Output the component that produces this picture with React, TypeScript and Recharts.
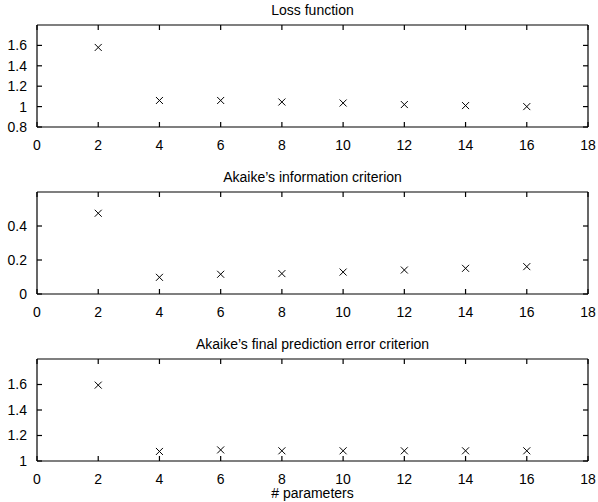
import { ScatterChart, Scatter, XAxis, YAxis, ReferenceLine } from "recharts"

// number of model parameters (x) and the three criteria
const params = [2, 4, 6, 8, 10, 12, 14, 16]
const lossValues = [1.58, 1.06, 1.06, 1.045, 1.035, 1.02, 1.01, 1.0]
const aicValues = [0.475, 0.098, 0.116, 0.12, 0.129, 0.141, 0.151, 0.161]
const fpeValues = [1.595, 1.075, 1.087, 1.08, 1.08, 1.08, 1.08, 1.08]

const xTicks = [0, 2, 4, 6, 8, 10, 12, 14, 16, 18]
const lossTicks = [0.8, 1, 1.2, 1.4, 1.6]
const aicTicks = [0, 0.2, 0.4]
const fpeTicks = [1, 1.2, 1.4, 1.6]

const FONT = "'Liberation Sans', Arial, Helvetica, sans-serif"
const TICK_LEN = 5
const tickStyle = { fill: "#000", fontSize: 14, fontFamily: FONT }

// matlab style inward tick marks: a short stub at each end of a reference line
const XTickPair = (p: any) => {
  const top = Math.min(p.y1, p.y2)
  const bot = Math.max(p.y1, p.y2)
  return (
    <g>
      <line x1={p.x1} x2={p.x1} y1={top} y2={top + TICK_LEN} stroke="#000" strokeWidth={1.2} />
      <line x1={p.x1} x2={p.x1} y1={bot} y2={bot - TICK_LEN} stroke="#000" strokeWidth={1.2} />
    </g>
  )
}

const YTickPair = (p: any) => {
  const left = Math.min(p.x1, p.x2)
  const right = Math.max(p.x1, p.x2)
  return (
    <g>
      <line x1={left} x2={left + TICK_LEN} y1={p.y1} y2={p.y1} stroke="#000" strokeWidth={1.2} />
      <line x1={right} x2={right - TICK_LEN} y1={p.y1} y2={p.y1} stroke="#000" strokeWidth={1.2} />
    </g>
  )
}

const XMark = (props: any) => {
  const { cx, cy } = props
  const s = 3.5
  return (
    <path
      d={`M${cx - s},${cy - s}L${cx + s},${cy + s}M${cx - s},${cy + s}L${cx + s},${cy - s}`}
      stroke="#000"
      strokeWidth={1}
      fill="none"
    />
  )
}

type PanelProps = {
  top: number
  title: string
  values: number[]
  yDomain: [number, number]
  yTicks: number[]
}

function Panel({ top, title, values, yDomain, yTicks }: PanelProps) {
  const data = params.map((p, i) => ({ p, v: values[i] }))
  return (
    <div style={{ position: "absolute", left: 0, top, width: 598, height: 168 }}>
      <div
        style={{
          position: "absolute",
          left: 37,
          width: 551,
          top: 2,
          textAlign: "center",
          fontFamily: FONT,
          fontSize: 14,
          lineHeight: "16px",
          color: "#000",
        }}
      >
        {title}
      </div>
      <ScatterChart width={598} height={168} margin={{ top: 0, right: 0, bottom: 0, left: 0 }}>
        <XAxis
          xAxisId="b"
          type="number"
          dataKey="p"
          domain={[0, 18]}
          ticks={xTicks}
          interval={0}
          height={41}
          tickLine={false}
          tickMargin={7}
          tick={tickStyle}
          stroke="#000"
          strokeWidth={1.2}
          allowDataOverflow
        />
        <XAxis
          xAxisId="t"
          orientation="top"
          type="number"
          dataKey="p"
          domain={[0, 18]}
          height={25}
          tickLine={false}
          tick={false}
          stroke="#000"
          strokeWidth={1.2}
          allowDataOverflow
        />
        <YAxis
          yAxisId="l"
          type="number"
          dataKey="v"
          domain={yDomain}
          ticks={yTicks}
          interval={0}
          width={37}
          tickLine={false}
          tickMargin={4}
          tick={tickStyle}
          stroke="#000"
          strokeWidth={1.2}
          allowDataOverflow
        />
        <YAxis
          yAxisId="r"
          orientation="right"
          type="number"
          dataKey="v"
          domain={yDomain}
          width={10}
          tickLine={false}
          tick={false}
          stroke="#000"
          strokeWidth={1.2}
          allowDataOverflow
        />
        {xTicks.map((t) => (
          <ReferenceLine key={`x${t}`} xAxisId="b" yAxisId="l" x={t} shape={XTickPair} ifOverflow="visible" />
        ))}
        {yTicks.map((t) => (
          <ReferenceLine key={`y${t}`} xAxisId="b" yAxisId="l" y={t} shape={YTickPair} ifOverflow="visible" />
        ))}
        <Scatter xAxisId="b" yAxisId="l" data={data} shape={XMark} isAnimationActive={false} />
        <Scatter xAxisId="t" yAxisId="r" data={data} shape={() => <g />} isAnimationActive={false} />
      </ScatterChart>
    </div>
  )
}

export default function App() {
  return (
    <div style={{ position: "absolute", left: 0, top: 0, width: 598, height: 502, background: "#fff" }}>
      <Panel top={0} title="Loss function" values={lossValues} yDomain={[0.8, 1.8]} yTicks={lossTicks} />
      <Panel top={167} title="Akaike’s information criterion" values={aicValues} yDomain={[0, 0.6]} yTicks={aicTicks} />
      <Panel top={334} title="Akaike’s final prediction error criterion" values={fpeValues} yDomain={[1, 1.8]} yTicks={fpeTicks} />
      <div
        style={{
          position: "absolute",
          left: 37,
          width: 551,
          top: 486,
          textAlign: "center",
          fontFamily: FONT,
          fontSize: 14,
          lineHeight: "14px",
          color: "#000",
        }}
      >
        # parameters
      </div>
    </div>
  )
}
